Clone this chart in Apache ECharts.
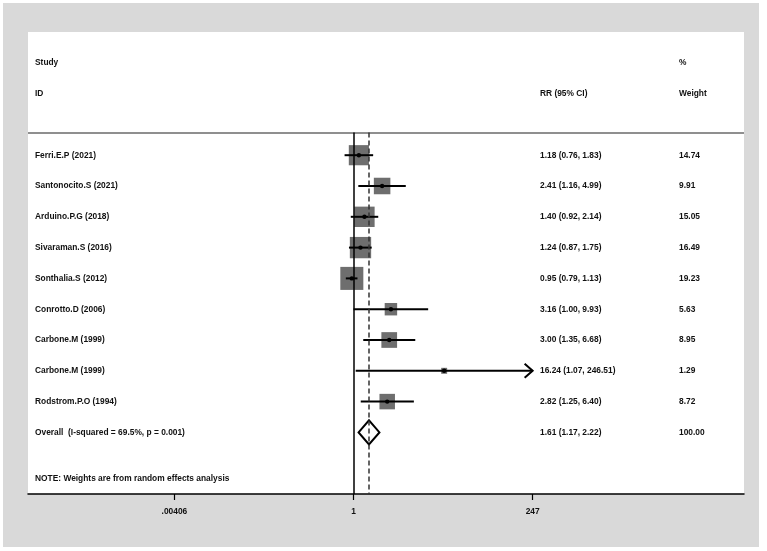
<!DOCTYPE html>
<html>
<head>
<meta charset="utf-8">
<script src="https://cdn.jsdelivr.net/npm/echarts@6/dist/echarts.min.js"></script>
<style>
  html, body { margin: 0; padding: 0; background: #fff; }
  #wrap { padding: 3px 0 0 3px; }
  #chart { width: 756px; height: 544px; }
</style>
</head>
<body>
<div id="wrap"><div id="chart"></div></div>
<script>
// study rows, top to bottom
const studies = ['Ferri.E.P (2021)', 'Santonocito.S (2021)', 'Arduino.P.G (2018)', 'Sivaraman.S (2016)',
  'Sonthalia.S (2012)', 'Conrotto.D (2006)', 'Carbone.M (1999)', 'Carbone.M (1999)', 'Rodstrom.P.O (1994)']
const rr = [1.18, 2.41, 1.40, 1.24, 0.95, 3.16, 3.00, 16.24, 2.82]
const lower = [0.76, 1.16, 0.92, 0.87, 0.79, 1.00, 1.35, 1.07, 1.25]
const upper = [1.83, 4.99, 2.14, 1.75, 1.13, 9.93, 6.68, 246.51, 6.40]
const weight = [14.74, 9.91, 15.05, 16.49, 19.23, 5.63, 8.95, 1.29, 8.72]

// pooled estimate
const overallLabel = 'Overall  (I-squared = 69.5%, p = 0.001)'
const overall = [1.61, 1.17, 2.22]   // rr, lower, upper
const overallWeight = 100.00

const tickValues = [0.00406, 1, 247]
const tickLabels = ['.00406', '1', '247']

const FONT = 'bold 8.4px "Liberation Sans", Arial, sans-serif'
const BOX_COLOR = '#6e6e6e'
const BOX_SCALE = 5.25
const COL_STUDY = 32, COL_CI = 537, COL_W = 676
const SEP_ROW = -0.74, ROW_MAX = 11
const OVERALL_ROW = studies.length

const lg = v => Math.log10(v)
const tickLogs = tickValues.map(lg)
const fmt = v => v.toFixed(2)
const ciText = (r, l, h) => `${fmt(r)} (${fmt(l)}, ${fmt(h)})`

const txt = (x, y, text, align) => ({
  type: 'text', x, y,
  style: { text, font: FONT, fill: '#111', align: align || 'left', verticalAlign: 'middle' }
})

const renderStudy = (params, api) => {
  const i = params.dataIndex
  const mid = api.coord([lg(rr[i]), i])
  const y = mid[1]
  const xl = api.coord([lg(lower[i]), i])[0]
  const xh = api.coord([lg(upper[i]), i])[0]
  const side = BOX_SCALE * Math.sqrt(weight[i])
  const children = [
    { type: 'rect', shape: { x: mid[0] - side / 2, y: y - side / 2, width: side, height: side }, style: { fill: BOX_COLOR } },
    { type: 'line', shape: { x1: xl, y1: y, x2: xh, y2: y }, style: { stroke: '#000', lineWidth: 2 } },
    { type: 'circle', shape: { cx: mid[0], cy: y, r: 2.2 }, style: { fill: '#000' } },
    txt(COL_STUDY, y, studies[i]),
    txt(COL_CI, y, ciText(rr[i], lower[i], upper[i])),
    txt(COL_W, y, fmt(weight[i]))
  ]
  // CI runs off the plotted range -> arrow head
  if (upper[i] >= tickValues[2] * 0.99) {
    children.push({
      type: 'polyline',
      shape: { points: [[xh - 8, y - 7], [xh, y], [xh - 8, y + 7]] },
      style: { stroke: '#000', lineWidth: 2, fill: null }
    })
  }
  return { type: 'group', children }
}

const renderOverall = (params, api) => {
  const c = api.coord([lg(overall[0]), OVERALL_ROW])
  const y = c[1]
  const xl = api.coord([lg(overall[1]), OVERALL_ROW])[0]
  const xh = api.coord([lg(overall[2]), OVERALL_ROW])[0]
  const h = 12
  return {
    type: 'group',
    children: [
      { type: 'polygon', shape: { points: [[xl, y], [c[0], y - h], [xh, y], [c[0], y + h]] },
        style: { fill: '#fff', stroke: '#000', lineWidth: 2 } },
      txt(COL_STUDY, y, overallLabel),
      txt(COL_CI, y, ciText(overall[0], overall[1], overall[2])),
      txt(COL_W, y, fmt(overallWeight))
    ]
  }
}

const renderHeader = (params, api) => {
  const yr = r => api.coord([0, r])[1]
  return {
    type: 'group',
    children: [
      txt(COL_STUDY, yr(-3), 'Study'),
      txt(COL_STUDY, yr(-2), 'ID'),
      txt(COL_CI, yr(-2), 'RR (95% CI)'),
      txt(COL_W, yr(-3), '%'),
      txt(COL_W, yr(-2), 'Weight'),
      txt(COL_STUDY, yr(10.5), 'NOTE: Weights are from random effects analysis')
    ]
  }
}

const chart = echarts.init(document.getElementById('chart'))

chart.setOption({
  backgroundColor: '#d9d9d9',
  animation: false,
  grid: { left: 25, right: 15, top: 29, bottom: 53, show: true, backgroundColor: '#fff', borderWidth: 0 },
  xAxis: {
    type: 'value',
    min: -4.346,
    max: 5.214,
    splitLine: { show: false },
    axisLine: { onZero: false, lineStyle: { color: '#000', width: 1.5 } },
    axisTick: { customValues: tickLogs, length: 6, lineStyle: { color: '#000', width: 1.2 } },
    axisLabel: {
      customValues: tickLogs,
      margin: 14,
      color: '#111',
      fontSize: 8.4,
      fontWeight: 'bold',
      fontFamily: '"Liberation Sans", Arial, sans-serif',
      formatter: v => tickLabels[tickLogs.findIndex(t => Math.abs(t - v) < 1e-6)]
    }
  },
  yAxis: { type: 'value', inverse: true, min: -4, max: ROW_MAX, show: false },
  series: [
    {
      type: 'line',
      data: [],
      silent: true,
      markLine: {
        silent: true,
        symbol: 'none',
        label: { show: false },
        data: [
          { yAxis: SEP_ROW, lineStyle: { color: '#6a6a6a', width: 1.5, type: 'solid' } },
          [{ coord: [0, SEP_ROW], lineStyle: { color: '#000', width: 1.5, type: 'solid' } }, { coord: [0, ROW_MAX] }],
          [{ coord: [lg(overall[0]), SEP_ROW], lineStyle: { color: '#333', width: 1.5, type: [5, 3] } }, { coord: [lg(overall[0]), ROW_MAX] }]
        ]
      }
    },
    {
      type: 'custom',
      renderItem: renderStudy,
      data: rr.map((v, i) => [lg(v), i]),
      z: 3
    },
    {
      type: 'custom',
      renderItem: renderOverall,
      data: [[lg(overall[0]), OVERALL_ROW]],
      z: 3
    },
    {
      type: 'custom',
      renderItem: renderHeader,
      data: [[0, -3]],
      z: 3
    }
  ]
})
</script>
</body>
</html>
